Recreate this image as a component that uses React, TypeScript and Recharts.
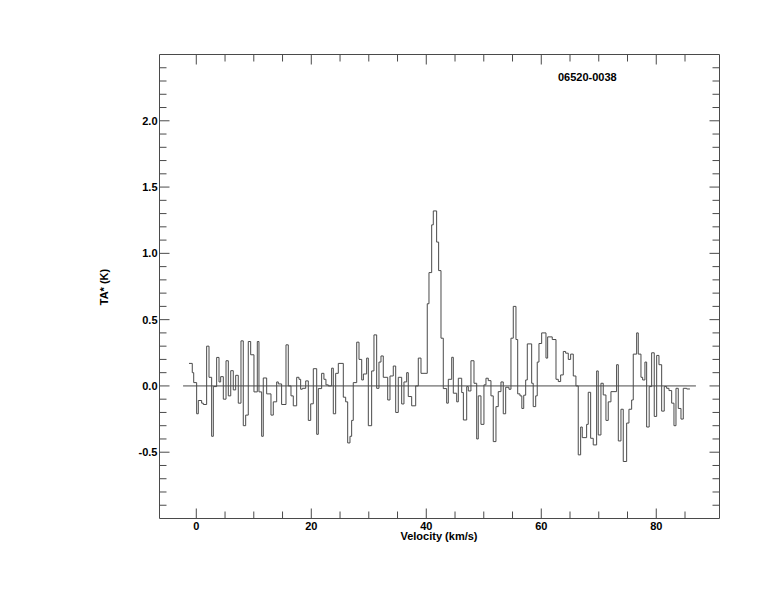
import { LineChart, Line, XAxis, YAxis, ReferenceLine } from "recharts";

// channel left edges (km/s) and antenna temperature
const chanVel = [
  -1.27, -0.7, -0.45, 0.06, 0.35, 0.93, 1.22, 1.8, 2.21, 2.67, 2.96, 3.54, 3.95, 4.24, 4.7, 5.17, 5.57, 5.99, 6.43,
  6.85, 7.3, 7.77, 8.17, 8.59, 9.04, 9.46, 10.03, 10.61, 10.9, 11.37, 11.65, 12.24, 12.99, 13.39, 13.98, 14.26, 14.84,
  15.6, 16.0, 16.47, 16.87, 17.46, 17.86, 18.15, 18.44, 19.03, 19.48, 19.9, 20.35, 20.94, 21.22, 21.8, 22.2, 22.55,
  22.96, 23.54, 23.83, 24.24, 24.7, 25.57, 25.98, 26.33, 26.73, 27.02, 27.3, 27.9, 28.3, 28.77, 29.06, 29.63, 29.92,
  30.5, 30.9, 31.37, 31.77, 32.12, 32.52, 33.29, 33.69, 34.26, 34.68, 35.13, 35.72, 36.12, 36.59, 36.87, 37.46, 38.16,
  38.61, 39.08, 40.17, 40.47, 40.94, 41.22, 41.8, 42.15, 42.56, 42.96, 43.55, 43.83, 44.42, 44.7, 45.29, 45.57, 46.16,
  46.45, 47.03, 47.31, 47.77, 48.3, 48.77, 49.04, 49.51, 50.03, 50.38, 50.78, 51.25, 51.65, 52.12, 52.52, 52.99, 53.39,
  53.81, 54.38, 54.73, 55.13, 55.6, 55.9, 56.3, 56.62, 56.95, 57.29, 57.57, 58.33, 58.6, 59.03, 59.3, 59.6, 60.07,
  60.82, 61.11, 61.91, 62.56, 62.96, 63.37, 63.83, 64.24, 64.7, 65.11, 65.57, 66.03, 66.43, 66.85, 67.13, 67.89, 68.17,
  68.59, 69.04, 69.63, 69.91, 70.38, 70.78, 71.25, 71.65, 72.12, 73.1, 73.4, 73.86, 74.26, 74.85, 75.25,
  75.72, 76.0, 76.59, 76.87, 77.34, 77.63, 78.03, 78.33, 78.77, 79.2, 79.65, 80.07, 80.47, 80.94, 81.39, 81.81, 82.21,
  82.68, 83.08, 83.43, 83.83, 84.3, 84.7, 85.29, 85.86,
];
const chanTa = [
  0.17, 0.1, 0.025, -0.21, -0.11, -0.13, -0.14, 0.3, 0.065, -0.38, -0.005, 0.215, 0.03, 0.07, -0.1, 0.19, -0.075, 0.115,
  -0.03, 0.08, -0.13, 0.34, -0.3, -0.22, 0.335, 0.235, -0.045, 0.335, -0.045, -0.38, 0.06, -0.06, -0.22, -0.12, 0.03,
  0.015, -0.14, 0.31, 0.0, -0.075, -0.15, 0.065, 0.05, -0.025, -0.018, 0.038, -0.26, -0.135, 0.13, -0.365, -0.02, 0.095,
  0.05, 0.008, 0.0, 0.134, -0.21, 0.095, 0.17, -0.085, -0.12, -0.43, -0.38, -0.26, 0.025, 0.33, 0.2, 0.045, 0.09, 0.21,
  -0.3, 0.113, 0.385, -0.018, 0.18, 0.226, 0.065, -0.106, 0.075, 0.15, -0.2, 0.065, -0.136, 0.03, 0.1, -0.08, -0.15,
  0.0, 0.21, 0.095, 0.62, 0.855, 1.215, 1.32, 1.085, 0.87, 0.36, -0.02, -0.13, 0.05, 0.216, -0.055, -0.12, 0.058, -0.05,
  -0.257, -0.005, -0.038, 0.19, 0.02, -0.4, -0.075, -0.29, 0.008, 0.058, 0.04, -0.075, -0.42, -0.156, -0.043, 0.03,
  -0.21, -0.01, -0.025, 0.36, 0.6, 0.35, -0.06, -0.075, -0.17, -0.07, 0.045, 0.317, 0.02, -0.156, -0.075, 0.18, 0.32,
  0.4, 0.21, 0.37, 0.35, 0.05, 0.033, 0.083, 0.26, 0.247, 0.2, 0.24, 0.075, 0.0, -0.52, -0.31, -0.39, -0.29, -0.048,
  -0.395, -0.445, 0.113, -0.37, 0.02, -0.068, -0.26, -0.12, -0.043, 0.16, -0.415, -0.176, -0.57, -0.28,
  -0.176, -0.106, 0.24, 0.4, 0.24, 0.065, 0.045, 0.18, -0.31, -0.005, 0.25, -0.23, 0.23, 0.16, -0.19, -0.005, -0.018,
  -0.035, -0.13, -0.3, -0.018, -0.17, -0.25, -0.018, -0.023, -0.023,
];

const baselineRange = [-2.3, 86.9];
const xDomain = [-6.4, 91];
const yDomain = [-1.0, 2.5];
const xTicks = [0, 5, 10, 15, 20, 25, 30, 35, 40, 45, 50, 55, 60, 65, 70, 75, 80, 85];
const xLabeled = [0, 20, 40, 60, 80];
const yTicks = [
  -0.9, -0.8, -0.7, -0.6, -0.5, -0.4, -0.3, -0.2, -0.1, 0.0, 0.1, 0.2, 0.3, 0.4, 0.5, 0.6, 0.7, 0.8, 0.9, 1.0, 1.1, 1.2,
  1.3, 1.4, 1.5, 1.6, 1.7, 1.8, 1.9, 2.0, 2.1, 2.2, 2.3, 2.4,
];
const yLabeled = [-0.5, 0.0, 0.5, 1.0, 1.5, 2.0];

const spectrum = chanVel.map((v, i) => ({ v, ta: chanTa[i] }));

const INK = "#4a4a4a";
const FONT = "'Liberation Sans', Arial, Helvetica, sans-serif";

const has = (list: number[], v: number) => list.some((l) => Math.abs(l - v) < 1e-6);

function makeTick(side: "bottom" | "top" | "left" | "right") {
  return (props: any) => {
    const { x, y, payload } = props;
    const v = payload.value;
    const vertical = side === "left" || side === "right";
    const major = vertical ? has(yLabeled, v) : has(xLabeled, v);
    const len = major ? 10 : 7;
    let line;
    if (side === "bottom") line = <line x1={x} y1={y} x2={x} y2={y - len} stroke={INK} />;
    else if (side === "top") line = <line x1={x} y1={y} x2={x} y2={y + len} stroke={INK} />;
    else if (side === "left") line = <line x1={x} y1={y} x2={x + len} y2={y} stroke={INK} />;
    else line = <line x1={x} y1={y} x2={x - len} y2={y} stroke={INK} />;
    let label = null;
    if (side === "bottom" && major)
      label = (
        <text x={x} y={y + 11} textAnchor="middle" fontSize={11} fontWeight="bold" fontFamily={FONT} fill="#000">
          {String(v)}
        </text>
      );
    if (side === "left" && major)
      label = (
        <text x={x - 2} y={y + 4} textAnchor="end" fontSize={11} fontWeight="bold" fontFamily={FONT} fill="#000">
          {v.toFixed(1)}
        </text>
      );
    return (
      <g>
        {line}
        {label}
      </g>
    );
  };
}

export default function App() {
  return (
    <div style={{ position: "absolute", left: 0, top: 0, width: 774, height: 612, background: "#fff" }}>
      <LineChart
        width={774}
        height={612}
        data={spectrum}
        margin={{ top: 44.5, right: 44.5, bottom: 83.5, left: 149.5 }}
      >
        <XAxis
          xAxisId="b"
          dataKey="v"
          type="number"
          domain={xDomain}
          ticks={xTicks}
          allowDataOverflow
          height={10}
          tickSize={0}
          tickMargin={0}
          tickLine={false}
          axisLine={{ stroke: INK }}
          tick={makeTick("bottom")}
          interval={0}
        />
        <XAxis
          xAxisId="t"
          orientation="top"
          dataKey="v"
          type="number"
          domain={xDomain}
          ticks={xTicks}
          allowDataOverflow
          height={10}
          tickSize={0}
          tickMargin={0}
          tickLine={false}
          axisLine={{ stroke: INK }}
          tick={makeTick("top")}
          interval={0}
        />
        <YAxis
          yAxisId="l"
          type="number"
          domain={yDomain}
          ticks={yTicks}
          allowDataOverflow
          width={10}
          tickSize={0}
          tickMargin={0}
          tickLine={false}
          axisLine={{ stroke: INK }}
          tick={makeTick("left")}
          interval={0}
        />
        <YAxis
          yAxisId="r"
          orientation="right"
          type="number"
          domain={yDomain}
          ticks={yTicks}
          allowDataOverflow
          width={10}
          tickSize={0}
          tickMargin={0}
          tickLine={false}
          axisLine={{ stroke: INK }}
          tick={makeTick("right")}
          interval={0}
        />
        <ReferenceLine
          xAxisId="b"
          yAxisId="l"
          segment={[
            { x: baselineRange[0], y: 0 },
            { x: baselineRange[1], y: 0 },
          ]}
          stroke={INK}
          strokeWidth={1}
        />
        <Line
          xAxisId="b"
          yAxisId="l"
          dataKey="ta"
          type="stepAfter"
          stroke={INK}
          strokeWidth={1}
          dot={false}
          isAnimationActive={false}
        />
      </LineChart>
      <svg
        width={774}
        height={612}
        style={{ position: "absolute", left: 0, top: 0, pointerEvents: "none" }}
        fontFamily={FONT}
        fontWeight="bold"
        fontSize={11}
      >
        <text x={558} y={81} fill="#000">
          06520-0038
        </text>
        <text x={439} y={540} textAnchor="middle" fill="#000">
          Velocity (km/s)
        </text>
        <text x={108} y={287} textAnchor="middle" fill="#000" transform="rotate(-90 108 287)">
          TA* (K)
        </text>
      </svg>
    </div>
  );
}
